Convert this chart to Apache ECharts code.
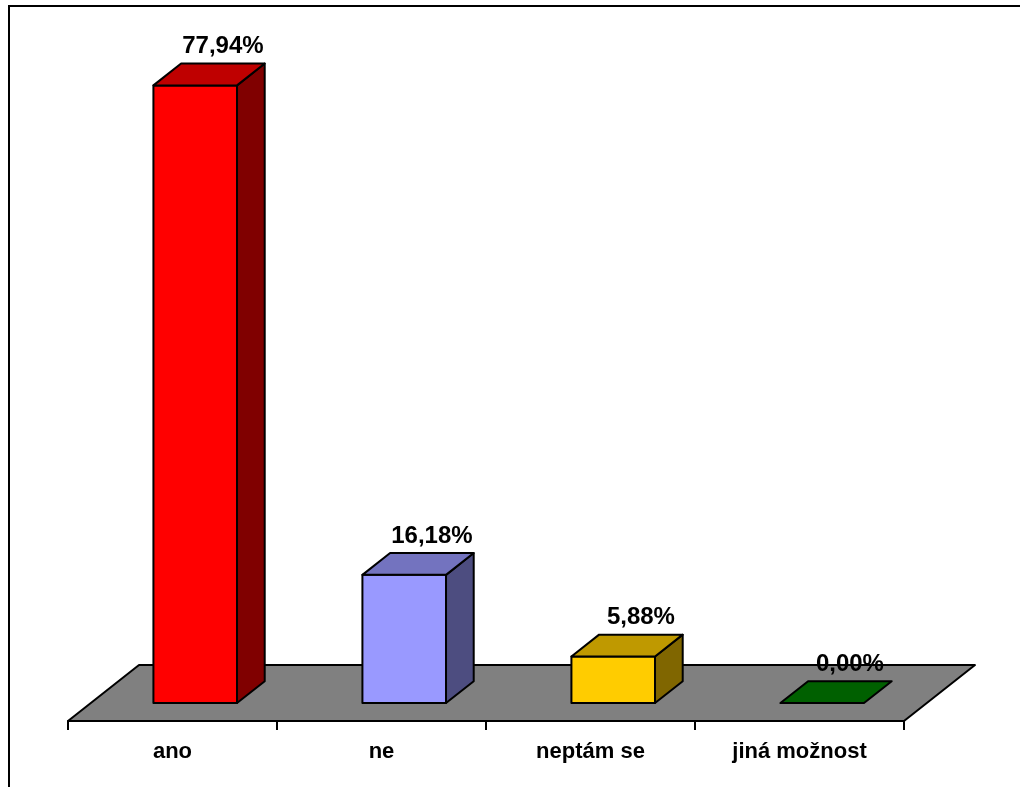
<!DOCTYPE html>
<html>
<head>
<meta charset="utf-8">
<style>
  html, body { margin: 0; padding: 0; background: #fff; }
  #chart { width: 1020px; height: 787px; }
</style>
<script src="https://cdn.jsdelivr.net/npm/echarts@6/dist/echarts.min.js"></script>
</head>
<body>
<div id="chart"></div>
<script>
// Survey answers and their shares (%)
const categories = ['ano', 'ne', 'neptám se', 'jiná možnost'];
const shares = [77.94, 16.18, 5.88, 0.00];
const frontColors = ['#FF0000', '#9999FF', '#FFCC00', '#008000'];

// Projection of the 3D floor and bars
const FLOOR_DX = 71, FLOOR_DY = -56;     // full floor depth
const BAR_FRONT = 0.32, BAR_BACK = 0.71; // bar placement along the depth
const BAR_WIDTH = 0.40;                  // share of category band

function shade(hex, k) {
  const n = parseInt(hex.slice(1), 16);
  const r = Math.round(((n >> 16) & 255) * k);
  const g = Math.round(((n >> 8) & 255) * k);
  const b = Math.round((n & 255) * k);
  return 'rgb(' + r + ',' + g + ',' + b + ')';
}
function fmt(v) { return v.toFixed(2).replace('.', ',') + '%'; }

const chart = echarts.init(document.getElementById('chart'), null, { renderer: 'canvas' });

const edge = { stroke: '#000', lineWidth: 2, lineJoin: 'round' };

function renderFloor(params) {
  const cs = params.coordSys;
  const x0 = cs.x, x1 = cs.x + cs.width, y = cs.y + cs.height;
  return {
    type: 'polygon',
    shape: { points: [[x0, y], [x1, y], [x1 + FLOOR_DX, y + FLOOR_DY], [x0 + FLOOR_DX, y + FLOOR_DY]] },
    style: Object.assign({ fill: '#808080' }, edge)
  };
}

function renderBar(params, api) {
  const ci = api.value(0);
  const v = api.value(1);
  const base = api.coord([ci, 0]);
  const top = api.coord([ci, v]);
  const band = api.size([1, 0])[0];
  const w = band * BAR_WIDTH;
  const fx = FLOOR_DX * BAR_FRONT, fy = FLOOR_DY * BAR_FRONT;
  const dx = FLOOR_DX * (BAR_BACK - BAR_FRONT), dy = FLOOR_DY * (BAR_BACK - BAR_FRONT);
  const xl = base[0] - w / 2 + fx, xr = base[0] + w / 2 + fx;
  const yb = base[1] + fy, yt = top[1] + fy;
  const color = frontColors[params.dataIndex];
  const children = [];
  if (yb - yt > 0.5) {
    children.push({
      type: 'polygon',
      shape: { points: [[xl, yb], [xr, yb], [xr, yt], [xl, yt]] },
      style: Object.assign({ fill: color }, edge)
    });
    children.push({
      type: 'polygon',
      shape: { points: [[xr, yb], [xr + dx, yb + dy], [xr + dx, yt + dy], [xr, yt]] },
      style: Object.assign({ fill: shade(color, 0.5) }, edge)
    });
  }
  children.push({
    type: 'polygon',
    shape: { points: [[xl, yt], [xr, yt], [xr + dx, yt + dy], [xl + dx, yt + dy]] },
    style: Object.assign({ fill: shade(color, 0.75) }, edge)
  });
  children.push({
    type: 'text',
    style: {
      text: fmt(v),
      x: (xl + xr) / 2 + dx,
      y: yt + dy - 5,
      align: 'center',
      verticalAlign: 'bottom',
      fill: '#000',
      font: 'bold 24px "Liberation Sans", Arial, sans-serif'
    }
  });
  return { type: 'group', children: children };
}

chart.setOption({
  backgroundColor: '#fff',
  animation: false,
  grid: { left: 68, right: 116, top: 87, bottom: 66 },
  xAxis: {
    type: 'category',
    data: categories,
    axisLine: { show: true, lineStyle: { color: '#000', width: 2 } },
    axisTick: { show: true, length: 9, lineStyle: { color: '#000', width: 2 } },
    axisLabel: {
      color: '#000',
      fontFamily: '"Liberation Sans", Arial, sans-serif',
      fontWeight: 'bold',
      fontSize: 22,
      margin: 20
    },
    splitLine: { show: false },
    z: 3
  },
  yAxis: {
    type: 'value',
    min: 0,
    max: 80,
    show: false
  },
  graphic: [{
    type: 'rect',
    shape: { x: 9, y: 6, width: 1200, height: 1000 },
    style: { fill: null, stroke: '#000', lineWidth: 2 },
    silent: true
  }],
  series: [
    {
      type: 'custom',
      name: 'floor',
      data: [[0]],
      renderItem: renderFloor,
      clip: false,
      z: 1,
      silent: true
    },
    {
      type: 'custom',
      name: 'shares',
      data: shares.map((v, i) => [i, v]),
      encode: { x: 0, y: 1 },
      renderItem: renderBar,
      clip: false,
      z: 4,
      silent: true
    }
  ]
});
</script>
</body>
</html>
